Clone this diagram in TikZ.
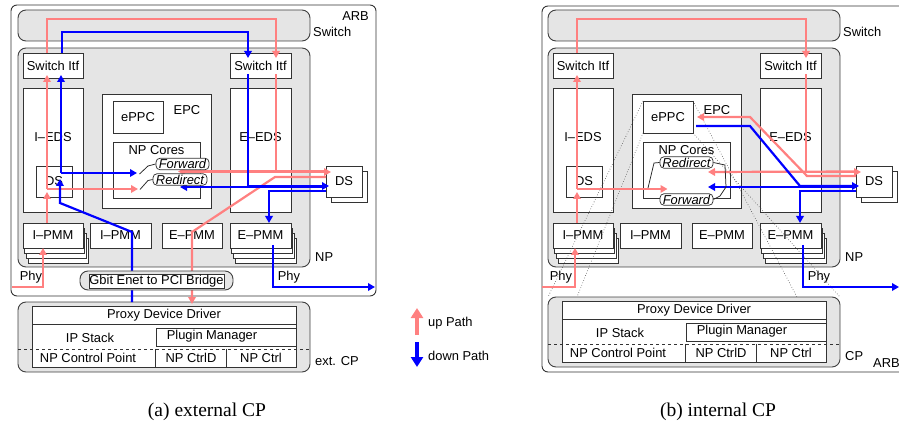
\documentclass[tikz,border=0pt]{standalone}
\usepackage{fontspec}
\setmainfont{Liberation Sans}
\newfontfamily\capfont{Liberation Serif}
\usepackage{tikz}
\usetikzlibrary{
  arrows.meta,
  positioning,
  calc
}
\definecolor{uppink}{RGB}{255,128,128}
\definecolor{downblue}{RGB}{0,0,255}
\definecolor{npgray}{RGB}{229,229,229}
\newcommand{\dfont}{\fontsize{12.9pt}{14pt}\selectfont}
\newcommand{\capsize}{\capfont\fontsize{19.5pt}{22pt}\selectfont}
\tikzset{
  arbbox/.style={draw=black!80, line width=0.9pt, rounded corners=6pt,
    inner sep=0pt, outer sep=0pt},
  grayblk/.style={draw=black!75, fill=npgray, rounded corners=8pt,
    line width=0.9pt, inner sep=0pt, outer sep=0pt},
  wbox/.style={draw=black!80, fill=white, line width=0.75pt,
    inner sep=0pt, outer sep=0pt},
  pmm/.style={wbox, minimum width=60pt, minimum height=25pt},
  dsbox/.style={wbox, minimum width=36pt, minimum height=31pt},
  tagbox/.style={draw=black!80, fill=white, rounded corners=4pt,
    line width=0.75pt, inner sep=0pt, minimum height=11.5pt,
    font=\dfont\itshape},
  txt/.style={inner sep=0pt},
  swarm/.style={line width=0.75pt, black!85},
  zoomln/.style={dotted, line width=0.6pt, black!70},
  uparr/.style={draw=uppink, line width=2.2pt,
    -{Triangle[length=7pt,width=7.5pt]}},
  dnarr/.style={draw=downblue, line width=2.2pt,
    -{Triangle[length=7pt,width=7.5pt]}},
  legup/.style={draw=uppink, line width=3.5pt,
    -{Triangle[length=10pt,width=12pt]}},
  legdn/.style={draw=downblue, line width=3.5pt,
    -{Triangle[length=10pt,width=12pt]}},
}
% switch, network processor and its blocks
\newcommand{\npblock}[1]{%
  \node[grayblk, minimum width=292pt, minimum height=31pt] (#1sw) at (164,25.5) {};
  \node[txt, anchor=west] at (313,31.5) {Switch};
  \node[grayblk, minimum width=292pt, minimum height=219pt] (#1np) at (164,157.5) {};
  \node[txt, anchor=west] at (315,257) {NP};
  \node[wbox, minimum width=60pt, minimum height=25pt] (#1itfL) at (53,65.5) {Switch Itf};
  \node[wbox, minimum width=61pt, minimum height=25pt] (#1itfR) at (260.5,65.5) {Switch Itf};
  \node[wbox, minimum width=60pt, minimum height=124pt] (#1ieds) at (53,150) {};
  \node[txt] at (53,137) {I--EDS};
  \node[wbox, minimum width=61pt, minimum height=124pt] (#1eeds) at (260.5,150) {};
  \node[txt] at (260.5,137) {E--EDS};
  \node[wbox, minimum width=109pt, minimum height=114pt] (#1epc) at (156.5,151) {};
  \node[txt] at (187,110) {EPC};
  \node[wbox, minimum width=50pt, minimum height=32pt] (#1eppc) at (138,117) {ePPC};
  \node[wbox, minimum width=87pt, minimum height=56pt] (#1cores) at (156.5,170) {};
  \node[txt] at (156.5,150) {NP Cores};
  \node[dsbox] (#1dsI) at (54,181.5) {DS};
  \node[dsbox] at (349,186.5) {};
  \node[dsbox] (#1dsE) at (344,181.5) {DS};
  \node[pmm] at (58.1,250.5) {};
  \node[pmm] at (56.4,245.5) {};
  \node[pmm] at (54.7,240.5) {};
  \node[pmm] (#1ipmmS) at (53,235.5) {I--PMM};
  \node[pmm, minimum width=61pt] (#1ipmm) at (120.5,235.5) {I--PMM};
  \node[pmm] (#1epmm) at (192,235.5) {E--PMM};
  \node[pmm, minimum width=61pt] at (265.6,250.5) {};
  \node[pmm, minimum width=61pt] at (263.9,245.5) {};
  \node[pmm, minimum width=61pt] at (262.2,240.5) {};
  \node[pmm, minimum width=61pt] (#1epmmS) at (260.5,235.5) {E--PMM};
  \node[txt] at (31,277) {Phy};
  \node[txt] at (289,277) {Phy};
}
% control point stack
\newcommand{\cpblock}[2]{%
  \node[grayblk, minimum width=292pt, minimum height=70pt] (#1cp) at (164,337) {};
  \node[wbox, minimum width=264pt, minimum height=61pt] (#1tab) at (164,336.5) {};
  \node[wbox, minimum width=264pt, minimum height=18pt] (#1proxy) at (164,315) {Proxy Device Driver};
  \node[txt] (#1ipst) at (90,338) {IP Stack};
  \node[wbox, minimum width=140pt, minimum height=18pt] (#1plug) at (226,337) {};
  \node[txt] at (212,336.5) {Plugin Manager};
  \draw[dashed, line width=0.75pt, black!80] ([yshift=-12pt]#1cp.west) -- ([yshift=-12pt]#1cp.east);
  \node[txt] (#1npcp) at (88,358) {NP Control Point};
  \node[txt, minimum width=70pt, minimum height=18pt] (#1ctrld) at (191,358) {NP CtrlD};
  \node[txt, minimum width=70pt, minimum height=18pt] (#1ctrl) at (261,358) {NP Ctrl};
  \draw[line width=0.75pt, black!80] (#1ctrld.north west) -- (#1ctrld.south west)
    (#1ctrld.north east) -- (#1ctrld.south east);
  \node[txt, anchor=west] at (315,361) {#2};
}

\begin{document}
\begin{tikzpicture}[x=1pt, y=-1pt, font=\dfont]
  \useasboundingbox (0,0) rectangle (899,438);
  \clip (0,0) rectangle (899,438);

  % (a) external CP
  \begin{scope}
    \node[arbbox, minimum width=365pt, minimum height=291pt] (a-arb) at (193.5,150.5) {};
    \node[txt, anchor=east] at (369,16) {ARB};
    \npblock{a-}
    \cpblock{a-}{ext. CP}
    \coordinate (a-fwin) at (137,173);
    \coordinate (a-rdin) at (138,189);
    \coordinate (a-fwout) at (178,171.5);
    \coordinate (a-rdout) at (180,187);
    \coordinate (a-phyin) at (12,287);
    \coordinate (a-phyout) at (375,287);

    % up path
    \draw[uparr] (a-phyin) -| ([xshift=-10pt]a-ipmmS.south);
    \draw[uparr] ([xshift=-6pt]a-ipmmS.north) -- ([xshift=-7pt,yshift=5pt]a-dsI.south);
    \draw[uparr] ([xshift=-7pt,yshift=-7.5pt]a-dsI.center) -- ([xshift=-6pt,yshift=3pt]a-itfL.south);
    \draw[uparr] ([xshift=-7pt,yshift=-7.5pt]a-dsI.center) -- (a-rdin);
    \draw[uparr] ([xshift=-6pt]a-itfL.north) -- ++(0,-34) -| ([xshift=15.5pt,yshift=-5pt]a-itfR.north);
    \draw[uparr] ([xshift=15.5pt,yshift=4pt]a-itfR.south) |- ([xshift=5pt,yshift=9.5pt]a-dsE.west);
    \draw[uparr] ([yshift=10pt]a-dsE.west) -- (a-fwout);
    \draw[uparr] ([yshift=4.5pt]a-dsE.west) -- ++(-51,0) -- ++(-83,55)
      -- ([xshift=28pt,yshift=-2pt]a-cp.north);

    % down path
    \draw[dnarr] ([xshift=-32pt]a-cp.north) -- ++(0,-70) -- ++(-72,-29)
      -- ([xshift=6pt,yshift=2.5pt]a-dsI.center);
    \draw[dnarr] ([xshift=7pt,yshift=8.5pt]a-dsI.center) -- ([xshift=8pt,yshift=3pt]a-itfL.south);
    \draw[dnarr] ([xshift=7pt,yshift=8.5pt]a-dsI.center) -- (a-fwin);
    \draw[dnarr] ([xshift=9pt]a-itfL.north) -- ++(0,-21) -| ([xshift=-12.5pt,yshift=-5pt]a-itfR.north);
    \draw[dnarr] ([xshift=-12.5pt,yshift=4pt]a-itfR.south) |- ([xshift=3pt,yshift=-4.5pt]a-dsE.west);
    \draw[dnarr] ([yshift=-5.5pt]a-dsE.west) -- (a-rdout);
    \draw[dnarr] ([yshift=-9.5pt]a-dsE.west) -| ([xshift=8.5pt]a-epmmS.north);
    \draw[dnarr] ([xshift=12.5pt,yshift=-9.5pt]a-epmmS.center) |- (a-phyout);

    % bridge to the external CP
    \node[grayblk, minimum width=153pt, minimum height=19pt] (a-brg) at (156.5,280.5) {};
    \node[wbox, minimum width=135pt, minimum height=14pt] (a-brgtxt) at (156.5,281) {Gbit Enet to PCI Bridge};

    % forward / redirect switch
    \node[tagbox, minimum width=53pt] (a-fwtag) at (182.5,164) {Forward};
    \node[tagbox, minimum width=54pt] (a-rdtag) at (180,179.5) {Redirect};
    \draw[swarm] (139.5,174) -- (148,166) -- (a-fwtag.west);
    \draw[swarm] (140,189.5) -- (148,180.5) -- (a-rdtag.west);
  \end{scope}

  % (b) internal CP
  \begin{scope}[shift={(530,0)}]
    \node[arbbox, minimum width=373pt, minimum height=366pt] (b-arb) at (198.5,189) {};
    \node[txt, anchor=west] at (343,363) {ARB};
    \npblock{b-}
    \begin{scope}[shift={(0,-5)}]
      \cpblock{b-}{CP}
    \end{scope}
    % ePPC seen as the CP
    \draw[zoomln] (b-eppc.north west) -- (b-cp.north west);
    \draw[zoomln] (b-eppc.south west) -- ([xshift=29pt]b-cp.north west);
    \draw[zoomln] (b-eppc.north east) -- ([xshift=-43pt]b-cp.north east);
    \draw[zoomln] (b-eppc.south east) -- (b-cp.north east);
    \coordinate (b-rdin) at (137.5,189);
    \coordinate (b-rdout) at (178,172);
    \coordinate (b-fwout) at (178,187);
    \coordinate (b-phyin) at (12,287);
    \coordinate (b-phyout) at (369,287);

    % up path
    \draw[uparr] (b-phyin) -| ([xshift=-8pt]b-ipmmS.south);
    \draw[uparr] ([xshift=-6pt]b-ipmmS.north) -- ([xshift=-7pt,yshift=5pt]b-dsI.south);
    \draw[uparr] ([xshift=-7pt,yshift=-7.5pt]b-dsI.center) -- ([xshift=-6pt,yshift=3pt]b-itfL.south);
    \draw[uparr] ([xshift=-7pt,yshift=-7.5pt]b-dsI.center) -- (b-rdin);
    \draw[uparr] ([xshift=-6pt]b-itfL.north) -- ++(0,-34) -| ([xshift=15.5pt,yshift=-5pt]b-itfR.north);
    \draw[uparr] ([xshift=15.5pt,yshift=4pt]b-itfR.south) |- ([xshift=5pt,yshift=9.5pt]b-dsE.west);
    \draw[uparr] ([yshift=10pt]b-dsE.west) -- (b-rdout);
    \draw[uparr] ([yshift=5.5pt]b-dsE.west) -- ++(-49,0) -- ++(-57,-59)
      -- ([xshift=4pt]b-eppc.east);

    % down path
    \draw[dnarr] ([xshift=3pt,yshift=-9pt]b-eppc.east) -- ++(54,0) -- ++(50,60)
      -- ([xshift=3pt,yshift=-4.5pt]b-dsE.west);
    \draw[dnarr] ([yshift=-5.5pt]b-dsE.west) -- (b-fwout);
    \draw[dnarr] ([yshift=-9.5pt]b-dsE.west) -| ([xshift=9.5pt]b-epmmS.north);
    \draw[dnarr] ([xshift=12.5pt,yshift=-9.5pt]b-epmmS.center) |- (b-phyout);

    % redirect / forward switch
    \node[tagbox, minimum width=53pt] (b-rdtag) at (156.5,162.5) {Redirect};
    \node[tagbox, minimum width=53pt] (b-fwtag) at (156.5,199.5) {Forward};
    \draw[swarm] (b-rdtag.west) -- (124,163) -- (118,188);
    \draw[swarm] (b-rdtag.east) -- (195,165) -- (196,187) -- (190,196) -- (b-fwtag.east);
  \end{scope}

  % legend
  \node[txt, anchor=west] (upl) at (428,323) {up Path};
  \node[txt, anchor=west] (dnl) at (428,356) {down Path};
  \draw[legup] ([xshift=-11pt,yshift=-12pt]upl.west) -- ++(0,-27);
  \draw[legdn] ([xshift=-11pt,yshift=14pt]dnl.west) -- ++(0,25);

  % captions
  \node[font=\capsize] (capa) at (207,412) {(a) external CP};
  \node[font=\capsize] (capb) at (718,412) {(b) internal CP};
\end{tikzpicture}
\end{document}
